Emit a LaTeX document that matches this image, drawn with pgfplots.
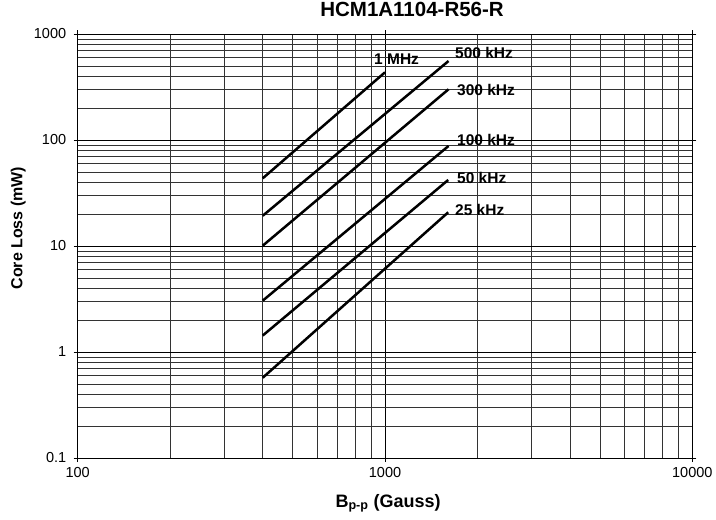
\documentclass[border=0pt]{standalone}
\usepackage{pgfplots}
\pgfplotsset{compat=1.18}
\usetikzlibrary{calc}
\usepackage{fontspec}
\setmainfont{Liberation Sans}
\begin{document}
\begin{tikzpicture}
\begin{axis}[
    xmode=log, ymode=log,
    scale only axis,
    width=614.6pt, height=424pt,
    xmin=100, xmax=10000,
    ymin=0.1, ymax=1000,
    xtick={100,1000,10000},
    xticklabels={100,1000,10000},
    ytick={0.1,1,10,100,1000},
    yticklabels={0.1,1,10,100,1000},
    minor xtick={200,300,400,500,600,700,800,900,2000,3000,4000,5000,6000,7000,8000,9000},
    minor ytick={0.2,0.3,0.4,0.5,0.6,0.7,0.8,0.9,2,3,4,5,6,7,8,9,20,30,40,50,60,70,80,90,200,300,400,500,600,700,800,900},
    grid=both,
    major grid style={black, line width=0.6pt},
    minor grid style={black!80, line width=0.6pt},
    tick align=outside,
    major tick length=4pt,
    minor tick length=0pt,
    tick style={black, line width=0.6pt},
    axis line style={black, line width=0.9pt},
    ticklabel style={font=\fontsize{14.5}{17}\selectfont},
    xticklabel style={yshift=-2pt},
    yticklabel style={xshift=-4pt},
    /pgf/number format/assume math mode=true,
    title={\bfseries HCM1A1104-R56-R},
    title style={font=\fontsize{20.5}{24}\selectfont, at={(axis description cs:0.544,1.0267)}, anchor=base},
    xlabel={\bfseries B\textsubscript{p-p} (Gauss)},
    xlabel style={font=\fontsize{18}{21}\selectfont, at={(axis description cs:0.505,-0.1156)}, anchor=base},
    ylabel={\bfseries Core Loss (mW)},
    ylabel style={font=\fontsize{16}{19}\selectfont, at={(axis description cs:-0.0966,0.5420)}, anchor=center},
    clip=false,
]
\addplot[black, line width=2.5pt, mark=none] coordinates {(400,43.5) (1000,435)};
\addplot[black, line width=2.5pt, mark=none] coordinates {(400,19.3) (1610,556)};
\addplot[black, line width=2.5pt, mark=none] coordinates {(400,10.07) (1610,301)};
\addplot[black, line width=2.5pt, mark=none] coordinates {(400,3.05) (1610,87.8)};
\addplot[black, line width=2.5pt, mark=none] coordinates {(400,1.43) (1606,42)};
\addplot[black, line width=2.5pt, mark=none] coordinates {(400,0.572) (1606,20.8)};
\tikzset{lbl/.style={font=\bfseries\fontsize{15.5}{18}\selectfont, anchor=west, inner sep=0pt, fill=none}}
\node[lbl] at (axis description cs:0.4821,0.9410) {1 MHz};
\node[lbl] at (axis description cs:0.6139,0.9552) {500 kHz};
\node[lbl] at (axis description cs:0.6171,0.8679) {300 kHz};
\node[lbl] at (axis description cs:0.6171,0.7500) {100 kHz};
\node[lbl] at (axis description cs:0.6171,0.6604) {50 kHz};
\node[lbl] at (axis description cs:0.6139,0.5849) {25 kHz};
\end{axis}
\pgfresetboundingbox
\path ($(current axis.south west)+(-77.7pt,-61pt)$) rectangle ($(current axis.north east)+(23.7pt,34pt)$);
\end{tikzpicture}
\end{document}
